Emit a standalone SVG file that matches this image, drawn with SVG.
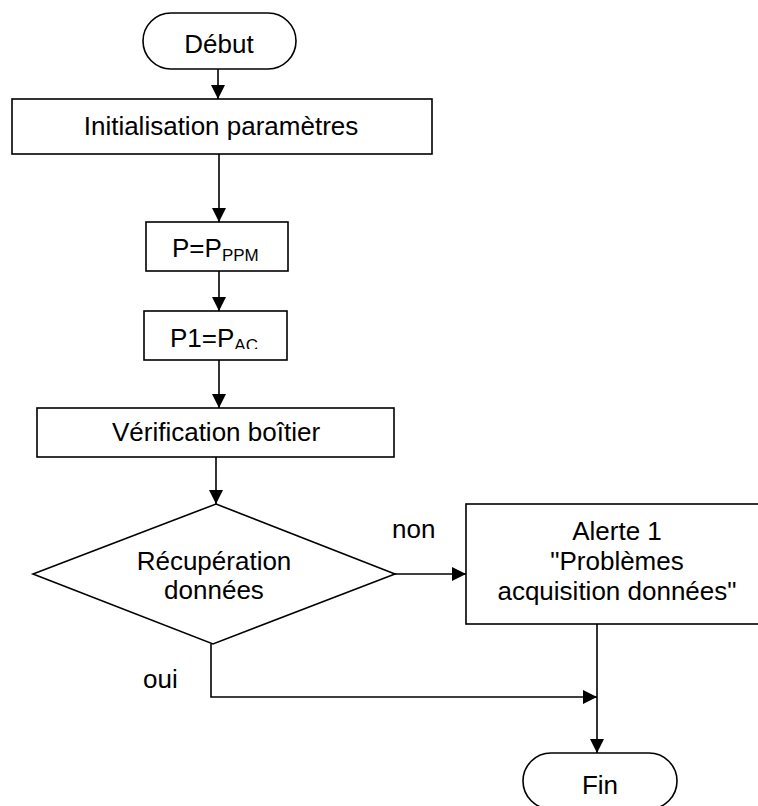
<svg xmlns="http://www.w3.org/2000/svg" width="758" height="806" viewBox="0 0 758 806">
<defs>
<style>
.s{fill:#fff;stroke:#000;stroke-width:1.6}
.c{fill:none;stroke:#000;stroke-width:1.6}
text{font-family:"Liberation Sans",Arial,sans-serif;font-size:26px;fill:#000}
.m{text-anchor:middle}
</style>
<marker id="a" viewBox="0 0 14 14" refX="14" refY="7" markerWidth="14" markerHeight="14" markerUnits="userSpaceOnUse" orient="auto">
<path d="M0,0 L14,7 L0,14 Z" fill="#000"/>
</marker>
<clipPath id="p1clip"><rect x="144" y="311" width="143" height="38"/></clipPath>
</defs>
<rect width="758" height="806" fill="#fff"/>
<g id="connectors">
<path class="c" d="M218,69 V99" marker-end="url(#a)"/>
<path class="c" d="M219,154 V222" marker-end="url(#a)"/>
<path class="c" d="M219,271 V311" marker-end="url(#a)"/>
<path class="c" d="M219,360 V408" marker-end="url(#a)"/>
<path class="c" d="M216,457 V504" marker-end="url(#a)"/>
<path class="c" d="M395,574 H466" marker-end="url(#a)"/>
<path class="c" d="M211,644 V697 H597" marker-end="url(#a)"/>
<path class="c" d="M597,624 V753" marker-end="url(#a)"/>
<text x="392" y="538">non</text>
<text x="143" y="688">oui</text>
</g>
<g id="debut">
<rect class="s" x="143" y="13" width="153" height="56" rx="28" ry="28"/>
<text class="m" x="219" y="53">Début</text>
</g>
<g id="init">
<rect class="s" x="12" y="99" width="420" height="55"/>
<text class="m" x="221" y="135">Initialisation paramètres</text>
</g>
<g id="pppm">
<rect class="s" x="146" y="222" width="142" height="49"/>
<text x="172" y="257">P=P<tspan font-size="17" dy="4">PPM</tspan></text>
</g>
<g id="p1">
<rect class="s" x="144" y="311" width="143" height="49"/>
<text x="170" y="347" clip-path="url(#p1clip)">P1=P<tspan font-size="17" dy="4">AC</tspan></text>
</g>
<g id="verif">
<rect class="s" x="37" y="408" width="357" height="49"/>
<text class="m" x="216" y="441">Vérification boîtier</text>
</g>
<g id="decision">
<polygon class="s" points="216,504 395,574 213,644 33,574"/>
<text class="m" x="214" y="570">Récupération</text>
<text class="m" x="214" y="599">données</text>
</g>
<g id="alerte">
<rect class="s" x="466" y="504" width="302" height="120"/>
<text class="m" x="617" y="540">Alerte 1</text>
<text class="m" x="617" y="570">"Problèmes</text>
<text class="m" x="617" y="600">acquisition données"</text>
</g>
<g id="fin">
<rect class="s" x="523" y="753" width="154" height="56" rx="28" ry="28"/>
<text class="m" x="600" y="794">Fin</text>
</g>
</svg>
